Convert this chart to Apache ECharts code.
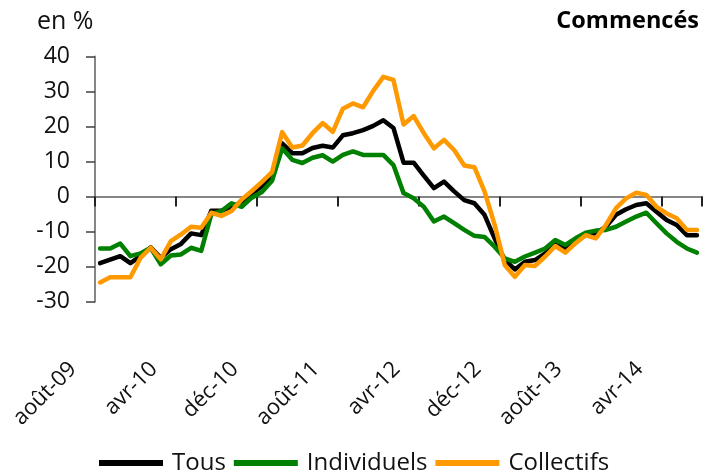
<!DOCTYPE html>
<html>
<head>
<meta charset="utf-8">
<script src="https://cdn.jsdelivr.net/npm/echarts/dist/echarts.min.js"></script>
<style>
  html, body { margin: 0; padding: 0; background: #fff; }
  #chart { width: 703px; height: 474px; }
</style>
</head>
<body>
<div id="chart"></div>
<script>
// mois, d'août 2009 à juillet 2014
var months = ['août-09', 'sept-09', 'oct-09', 'nov-09', 'déc-09',
  'janv-10', 'févr-10', 'mars-10', 'avr-10', 'mai-10', 'juin-10', 'juil-10', 'août-10', 'sept-10', 'oct-10', 'nov-10', 'déc-10',
  'janv-11', 'févr-11', 'mars-11', 'avr-11', 'mai-11', 'juin-11', 'juil-11', 'août-11', 'sept-11', 'oct-11', 'nov-11', 'déc-11',
  'janv-12', 'févr-12', 'mars-12', 'avr-12', 'mai-12', 'juin-12', 'juil-12', 'août-12', 'sept-12', 'oct-12', 'nov-12', 'déc-12',
  'janv-13', 'févr-13', 'mars-13', 'avr-13', 'mai-13', 'juin-13', 'juil-13', 'août-13', 'sept-13', 'oct-13', 'nov-13', 'déc-13',
  'janv-14', 'févr-14', 'mars-14', 'avr-14', 'mai-14', 'juin-14', 'juil-14']

var tous = [-19, -18, -17, -19, -17, -14.5, -17.5, -15, -13.5, -10.5, -11, -4, -4, -3, -1.5, 0.8, 3, 5.8,
  15.2, 12.4, 12.4, 13.9, 14.5, 14, 17.5, 18.1, 19, 20.2, 21.8, 19.6, 9.7, 9.7, 6, 2.4, 4.3, 1.5, -1, -1.9,
  -5.2, -11.9, -18.1, -20.8, -18.6, -18.1, -16.2, -13.8, -14.8, -12.9, -11, -10.5, -8.6, -5.2, -3.6, -2.4,
  -1.9, -4.3, -6.7, -8.1, -11, -11]

var individuels = [-14.8, -14.8, -13.4, -17, -16.2, -14.6, -19.3, -16.8, -16.5, -14.6, -15.5, -5, -4.1, -1.9, -2.9, -0.3, 1.3, 4.5,
  13.8, 10.5, 9.6, 11.1, 11.8, 10, 11.9, 12.9, 11.9, 11.9, 11.9, 9, 1, -0.5, -2.9, -7.1, -5.7, -7.6, -9.5, -11.2,
  -11.5, -14.3, -17.6, -18.6, -17.1, -16, -14.8, -12.4, -13.8, -11.9, -10.3, -9.7, -9.5, -8.6, -7.1, -5.7,
  -4.6, -7.6, -10.5, -12.9, -14.8, -16]

var collectifs = [-24.5, -23, -23, -23, -17.5, -14.6, -17.9, -12.7, -10.8, -8.6, -8.9, -4.6, -5.5, -4.1, -0.8, 1.6, 4.2, 7,
  18.4, 14, 14.6, 18.1, 21, 18.5, 25.1, 26.6, 25.5, 30.2, 34.2, 33.3, 20.6, 23, 18.1, 13.8, 16.2, 13.3, 8.9, 8.4,
  1.5, -8, -19.5, -22.9, -19.5, -19.8, -17.1, -14.1, -16, -13.3, -11, -11.9, -8.1, -3.3, -0.5, 1.1,
  0.5, -2.9, -4.8, -6.2, -9.5, -9.5]

var seriesNames = ['Tous', 'Individuels', 'Collectifs']
var seriesColors = ['#000000', '#008000', '#ff9900']

var yMin = -30
var yMax = 40
var tickEvery = 8 // un repère tous les 8 mois

var chart = echarts.init(document.getElementById('chart'))

var font = 'Open Sans'
var txtColor = '#111'
var gridTop = 56.5
var gridBottom = 172.3
var plotH = 474 - gridTop - gridBottom
// l'axe des mois est posé sur la ligne du zéro
var zeroOffset = -plotH * (0 - yMin) / (yMax - yMin)

chart.setOption({
  animation: false,
  textStyle: { fontFamily: font },
  title: {
    text: 'Commencés',
    right: 4,
    top: 9,
    padding: 0,
    textStyle: { fontSize: 23.5, fontWeight: 'bold', color: '#000', fontFamily: font }
  },
  graphic: [{
    type: 'text',
    left: 37,
    top: 9,
    style: { text: 'en %', fontSize: 25, fill: txtColor, fontFamily: font }
  }],
  legend: {
    data: seriesNames,
    icon: 'rect',
    itemWidth: 64,
    itemHeight: 6,
    itemGap: 8,
    left: 99,
    top: 450,
    padding: 0,
    textStyle: { fontSize: 24, color: txtColor, padding: [0, 0, 0, 4], lineHeight: 26 }
  },
  grid: [
    { left: 95, right: 1, top: gridTop, bottom: gridBottom },
    // grille décalée, seulement pour les libellés inclinés
    { left: 68, right: 28, top: gridTop, bottom: gridBottom }
  ],
  xAxis: [
    {
      type: 'category',
      data: months,
      boundaryGap: true,
      show: false
    },
    {
      type: 'category',
      gridIndex: 1,
      data: months,
      boundaryGap: true,
      position: 'bottom',
      axisLine: { show: false, onZero: false },
      axisTick: { show: false },
      axisLabel: { interval: tickEvery - 1, rotate: 45, margin: 64, fontSize: 22, color: txtColor, fontFamily: font },
      splitLine: { show: false }
    },
    {
      // ligne du zéro et repères entre les mois
      type: 'value',
      min: 0,
      max: months.length,
      interval: tickEvery,
      position: 'bottom',
      offset: zeroOffset,
      axisLine: { show: true, onZero: false, lineStyle: { color: '#868686', width: 2 } },
      axisTick: { show: true, inside: false, length: 10, lineStyle: { color: '#222', width: 2 } },
      axisLabel: { show: false },
      splitLine: { show: false }
    }
  ],
  yAxis: [
    {
      type: 'value',
      min: yMin,
      max: yMax,
      interval: 10,
      axisLine: { show: true, lineStyle: { color: '#868686', width: 2 } },
      axisTick: { show: true, length: 9, lineStyle: { color: '#404040', width: 1.5 } },
      axisLabel: { fontSize: 23, color: txtColor, margin: 25, fontFamily: font },
      splitLine: { show: false }
    },
    { type: 'value', gridIndex: 1, show: false, min: yMin, max: yMax }
  ],
  series: [tous, individuels, collectifs].map(function (vals, i) {
    return {
      name: seriesNames[i],
      type: 'line',
      xAxisIndex: 0,
      yAxisIndex: 0,
      data: vals,
      showSymbol: false,
      symbol: 'none',
      color: seriesColors[i],
      lineStyle: { color: seriesColors[i], width: 4.5, join: 'round', cap: 'round' }
    }
  })
})
</script>
</body>
</html>
